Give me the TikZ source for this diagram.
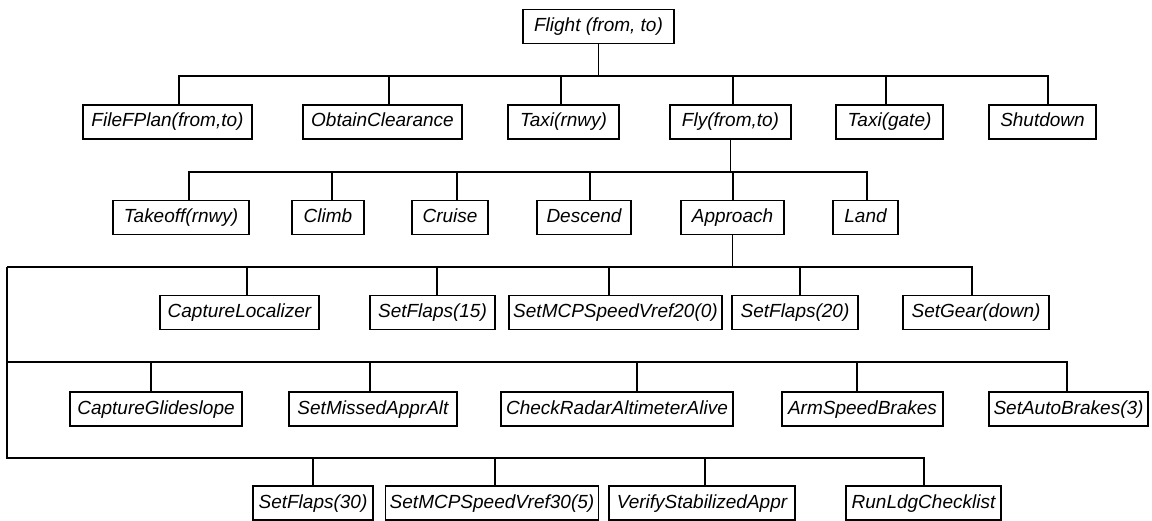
\documentclass[tikz,border=0pt]{standalone}
\usepackage{fontspec}
\setmainfont{Liberation Sans}
\tikzset{
	task/.style={rectangle, draw=black, line width=1.4pt, minimum height=34pt, inner xsep=4pt, inner ysep=0pt, text height=14pt, text depth=4pt, font=\itshape\fontsize{19}{22}\selectfont},
	link/.style={line width=1.4pt},
}
\begin{document}
\begin{tikzpicture}[x=1pt, y=-1pt]
	\useasboundingbox (0,0) rectangle (1152,521);
	% top level
	\node[task, minimum width=151pt] (flight) at (598.5,26.5) {Flight (from, to)};
	\node[task, minimum width=169pt] (fplan) at (167.5,122) {FileFPlan(from,to)};
	\node[task, minimum width=159pt] (clear) at (382.5,122) {ObtainClearance};
	\node[task, minimum width=111pt] (taxir) at (563.5,122) {Taxi(rnwy)};
	\node[task, minimum width=121pt] (fly) at (730.5,122) {Fly(from,to)};
	\node[task, minimum width=107pt] (taxig) at (889.5,122) {Taxi(gate)};
	\node[task, minimum width=107pt] (shut) at (1042.5,122) {Shutdown};
	% fly
	\node[task, minimum width=136pt] (takeoff) at (181,217.5) {Takeoff(rnwy)};
	\node[task, minimum width=72pt] (climb) at (328,217.5) {Climb};
	\node[task, minimum width=76pt] (cruise) at (450,217.5) {Cruise};
	\node[task, minimum width=94pt] (descend) at (584,217.5) {Descend};
	\node[task, minimum width=103pt] (approach) at (732.5,217.5) {Approach};
	\node[task, minimum width=65pt] (land) at (865.5,217.5) {Land};
	% approach, three rows
	\node[task, minimum width=159pt] (cloc) at (239.5,312.5) {CaptureLocalizer};
	\node[task, minimum width=125pt] (flapsa) at (432.5,312.5) {SetFlaps(15)};
	\node[task, minimum width=213pt] (vrefa) at (615.5,312.5) {SetMCPSpeedVref20(0)};
	\node[task, minimum width=126pt] (flapsb) at (795,312.5) {SetFlaps(20)};
	\node[task, minimum width=146pt] (gear) at (976,312.5) {SetGear(down)};
	\node[task, minimum width=172pt] (cglide) at (156,409) {CaptureGlideslope};
	\node[task, minimum width=168pt] (missed) at (373,409) {SetMissedApprAlt};
	\node[task, minimum width=232pt] (radar) at (617,409) {CheckRadarAltimeterAlive};
	\node[task, minimum width=161pt] (arm) at (862.5,409) {ArmSpeedBrakes};
	\node[task, minimum width=159pt] (autob) at (1068.5,409) {SetAutoBrakes(3)};
	\node[task, minimum width=120pt] (flapsc) at (313,503) {SetFlaps(30)};
	\node[task, minimum width=212pt] (vrefb) at (492,503) {SetMCPSpeedVref30(5)};
	\node[task, minimum width=186pt] (verify) at (702,503) {VerifyStabilizedAppr};
	\node[task, minimum width=155pt] (ldg) at (923.5,503) {RunLdgChecklist};
	% tree lines
	\foreach \c/\s in {fplan/179, clear/389, taxir/561, fly/733, taxig/886, shut/1048}
		\draw[link] (flight.south) |- (\s,76) -- (\s,0 |- \c.north);
	\foreach \c/\s in {takeoff/189, climb/332, cruise/457, descend/590, approach/733, land/867}
		\draw[link] (fly.south) |- (\s,172) -- (\s,0 |- \c.north);
	\coordinate (rail) at (7,267);
	\foreach \c/\s in {cloc/247, flapsa/437, vrefa/609, flapsb/800, gear/972}
		\draw[link] (approach.south) |- (\s,267) -- (\s,0 |- \c.north);
	\draw[link] (approach.south) |- (rail);
	\foreach \c/\s in {cglide/151, missed/370, radar/637, arm/857, autob/1067}
		\draw[link] (rail) |- (\s,362) -- (\s,0 |- \c.north);
	\foreach \c/\s in {flapsc/313, vrefb/495, verify/705, ldg/924}
		\draw[link] (rail) |- (\s,458) -- (\s,0 |- \c.north);
\end{tikzpicture}
\end{document}
